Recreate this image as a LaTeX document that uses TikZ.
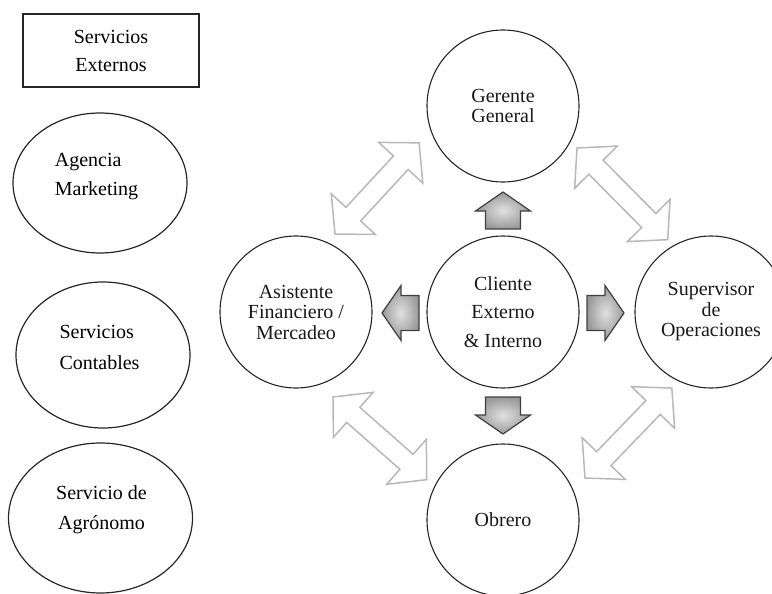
\documentclass[tikz,border=0pt]{standalone}
\usepackage{fontspec}
\setmainfont{Liberation Serif}
\usetikzlibrary{shapes.geometric}
\tikzset{
  lbl/.style={font=\fontsize{20}{20.5}\selectfont, align=center, text=black!90},
  circ/.style={circle, draw=black!85, line width=1.1pt, minimum size=152pt, inner sep=0pt, lbl},
  oval/.style={ellipse, draw=black!85, line width=1.2pt, inner sep=0pt},
  ovaltext/.style={inner sep=0pt, font=\fontsize{20}{30}\selectfont, text=black},
  blk/.style={draw=black!75, line width=1.2pt, line join=miter, inner color=black!12, outer color=black!40},
  dbl/.style={draw=black!28, line width=1.5pt, line join=miter, fill=white},
  pics/blockarrow/.style={code={
    \path[blk] (0,17.5) -- (18,17.5) -- (18,27.5) -- (37,0) -- (18,-27.5) -- (18,-17.5) -- (0,-17.5) -- cycle;}},
  pics/dblarrow/.style={code={
    \path[dbl] (0,0) -- (27,30) -- (27,10) -- (#1-27,10) -- (#1-27,30) -- (#1,0)
      -- (#1-27,-30) -- (#1-27,-10) -- (27,-10) -- (27,-30) -- cycle;}}
}
\begin{document}
\begin{tikzpicture}[x=1pt,y=-1pt]
\useasboundingbox (0,0) rectangle (772,594);
\clip (0,0) rectangle (772,594);
% left column
\node[draw=black!85, line width=1.2pt, minimum width=176pt, minimum height=73pt, inner sep=0pt,
      font=\fontsize{20}{28}\selectfont, align=center] (ext) at (111,50.5) {Servicios\\Externos};
\node[oval, minimum width=174pt, minimum height=140pt] (mkt) at (100,183) {};
\node[ovaltext, align=left, font=\fontsize{20}{29}\selectfont] (mkt-t) at (96.5,176.5) {Agencia\\Marketing};
\node[oval, minimum width=174pt, minimum height=146pt] (cont) at (103,355) {};
\node[ovaltext, align=left, font=\fontsize{20}{31}\selectfont] (cont-t) at (99.5,347.5) {Servicios\\Contables};
\node[oval, minimum width=184pt, minimum height=150pt] (agro) at (100.5,518) {};
\node[ovaltext, align=center] (agro-t) at (101.5,510) {Servicio de\\Agrónomo};
% circles
\node[circ] (ger) at (503,106) {Gerente\\General};
\node[circ, font=\fontsize{20}{28.5}\selectfont] (cli) at (503,312) {Cliente\\Externo\\\& Interno};
\node[circ] (asi) at (296,312) {Asistente\\Financiero /\\Mercadeo};
\node[circ] (sup) at (711,312) {Supervisor\\de\\Operaciones};
\node[circ] (obr) at (503,520) {Obrero};
% block arrows from the centre
\pic[rotate=90]  at (503,229) {blockarrow};
\pic[rotate=-90] at (503,397) {blockarrow};
\pic[rotate=180] at (419,313) {blockarrow};
\pic[rotate=0]   at (587,313) {blockarrow};
% double arrows between outer circles
\coordinate (ul) at (335,234);
\coordinate (ur) at (577,148);
\coordinate (ll) at (333,397);
\coordinate (lr) at (585,478);
\pic[rotate=47.3]  at (ul) {dblarrow=124};
\pic[rotate=-45.3] at (ur) {dblarrow=129};
\pic[rotate=-41.4] at (ll) {dblarrow=125};
\pic[rotate=46.0]  at (lr) {dblarrow=125};
\end{tikzpicture}
\end{document}
